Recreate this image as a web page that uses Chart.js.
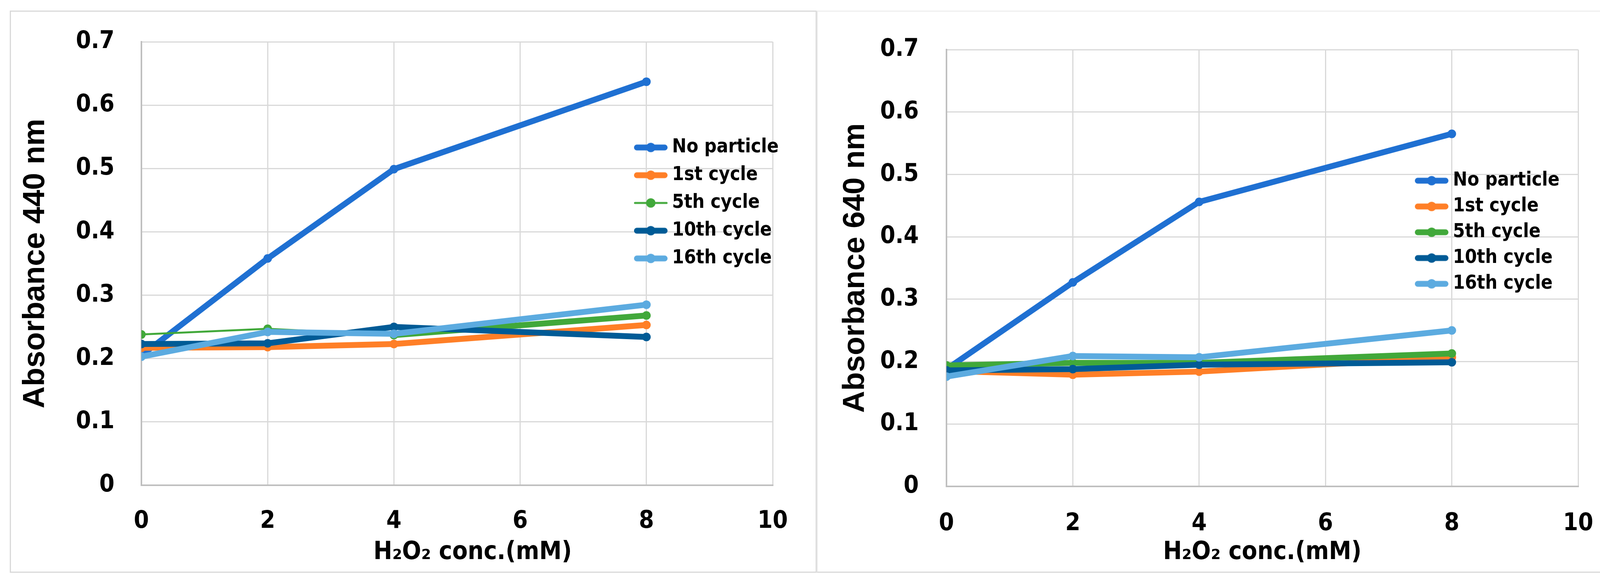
<!DOCTYPE html>
<html>
<head>
<meta charset="utf-8">
<title>Absorbance vs H2O2 concentration</title>
<script src="https://cdn.jsdelivr.net/npm/chart.js@4.4.1/dist/chart.umd.min.js"></script>
<style>
  html, body { margin: 0; padding: 0; background: #fff; }
  body { width: 4164px; height: 1505px; position: relative; overflow: hidden; }
  canvas { position: absolute; }
  .panel { position: absolute; box-sizing: border-box; border: 3px solid #d9d9d9; pointer-events: none; }
  #c440, #p440 { left: 25px; top: 27px; }
  #c640, #p640 { left: 2090px; top: 27px; }
  #p440 { width: 2066px; height: 1439px; }
  #p640 { width: 2048px; height: 1439px; border-top-color: #efefef; border-left-color: #e4e4e4; }
</style>
</head>
<body>
<canvas id="c440" width="2066" height="1439"></canvas>
<canvas id="c640" width="2048" height="1439"></canvas>
<div class="panel" id="p440"></div>
<div class="panel" id="p640"></div>
<script>
// x values (mM H2O2)
const concentrations = [0, 2, 4, 8];
const seriesNames = ['No particle', '1st cycle', '5th cycle', '10th cycle', '16th cycle'];

// absorbance at 440 nm
const abs440NoParticle = [0.205, 0.358, 0.499, 0.637];
const abs440Cycle1 = [0.217, 0.218, 0.223, 0.253];
const abs440Cycle5 = [0.238, 0.247, 0.237, 0.268];
const abs440Cycle10 = [0.223, 0.224, 0.250, 0.234];
const abs440Cycle16 = [0.203, 0.242, 0.239, 0.285];

// absorbance at 640 nm
const abs640NoParticle = [0.188, 0.327, 0.456, 0.565];
const abs640Cycle1 = [0.185, 0.179, 0.184, 0.207];
const abs640Cycle5 = [0.194, 0.198, 0.198, 0.213];
const abs640Cycle10 = [0.186, 0.188, 0.195, 0.199];
const abs640Cycle16 = [0.176, 0.209, 0.207, 0.250];

// tick labels
const xTicks = [0, 2, 4, 6, 8, 10];
const yTicks = [0, 0.1, 0.2, 0.3, 0.4, 0.5, 0.6, 0.7];

const colors = ['#1F70D2', '#FF7F27', '#41A83A', '#005B96', '#5CABE0'];
const thick = 15;
const thin = 5;

// narrow bold face, close to the Calibri look of the original
Chart.defaults.font.family = "'DejaVu Sans', sans-serif";
Chart.defaults.font.weight = 'bold condensed';
Chart.defaults.color = '#000';

// little line+dot picture for the legend
function legendIcon(color, w) {
  const c = document.createElement('canvas');
  c.width = 86;
  c.height = 30;
  const g = c.getContext('2d');
  g.strokeStyle = color;
  g.fillStyle = color;
  g.lineCap = 'round';
  g.lineWidth = w;
  g.beginPath();
  g.moveTo(w / 2, 15);
  g.lineTo(86 - w / 2, 15);
  g.stroke();
  g.beginPath();
  g.arc(43, 15, 12, 0, Math.PI * 2);
  g.fill();
  return c;
}

// move the legend inside the plot area
const placeLegend = {
  id: 'placeLegend',
  afterLayout(chart) {
    const lg = chart.legend;
    const p = chart.options.plugins.placeLegend;
    if (!lg || !p) return;
    const w = lg.width, h = lg.height;
    lg.left = p.x; lg.top = p.y;
    lg.right = p.x + w; lg.bottom = p.y + h;
  }
};

function makeChart(id, seriesValues, cfg) {
  const datasets = seriesValues.map((vals, i) => {
    const ds = {
      label: seriesNames[i],
      data: concentrations.map((x, j) => ({ x: x, y: vals[j] })),
      borderColor: colors[i],
      backgroundColor: colors[i],
      borderWidth: thick,
      pointRadius: 11,
      pointBorderWidth: 0,
      pointBackgroundColor: colors[i],
      borderJoinStyle: 'round',
      borderCapStyle: 'round',
      order: seriesValues.length - i,
      legendIcon: legendIcon(colors[i], cfg.legendWidths[i])
    };
    if (cfg.segments && cfg.segments[i]) ds.segment = { borderWidth: cfg.segments[i] };
    return ds;
  });

  return new Chart(document.getElementById(id), {
    type: 'line',
    data: { datasets: datasets },
    plugins: [placeLegend],
    options: {
      responsive: false,
      animation: false,
      devicePixelRatio: 1,
      layout: { padding: cfg.padding },
      plugins: {
        tooltip: { enabled: false },
        placeLegend: cfg.legendAt,
        legend: {
          position: 'chartArea',
          align: 'start',
          labels: {
            usePointStyle: true,
            pointStyleWidth: 60,
            padding: cfg.legendGap,
            font: { size: 49 },
            color: '#000',
            generateLabels: (chart) => chart.data.datasets.map((ds, i) => ({
              text: ds.label,
              fillStyle: ds.borderColor,
              strokeStyle: ds.borderColor,
              lineWidth: 0,
              pointStyle: ds.legendIcon,
              hidden: false,
              datasetIndex: i,
              fontColor: '#000'
            }))
          }
        }
      },
      scales: {
        x: {
          type: 'linear',
          min: 0,
          max: 10,
          afterBuildTicks: (s) => { s.ticks = xTicks.map(v => ({ value: v })); },
          afterFit: (s) => { s.height = cfg.xAxisHeight; },
          grid: { color: '#d9d9d9', lineWidth: 3, drawTicks: true, tickLength: cfg.xTickGap, tickColor: 'rgba(0,0,0,0)' },
          border: { color: '#bfbfbf', width: 4 },
          ticks: { padding: 0, font: { size: 62 }, maxRotation: 0 },
          title: {
            display: true,
            text: cfg.xTitle,
            font: { size: 64 },
            padding: { top: 0, bottom: 13 }
          }
        },
        y: {
          min: 0,
          max: 0.7,
          afterBuildTicks: (s) => { s.ticks = yTicks.map(v => ({ value: v })); },
          afterFit: (s) => { s.width = cfg.yAxisWidth; },
          grid: { color: '#d9d9d9', lineWidth: 3, drawTicks: true, tickLength: cfg.yTickGap, tickColor: 'rgba(0,0,0,0)' },
          border: { color: '#bfbfbf', width: 4 },
          ticks: { padding: 0, font: { size: 62 }, callback: (v) => String(Math.round(v * 10) / 10) },
          title: {
            display: true,
            text: cfg.yTitle,
            font: { family: "'Liberation Sans', Arial, sans-serif", size: 78, weight: 'bold' },
            padding: { top: cfg.yTitlePad, bottom: 0 }
          }
        }
      }
    }
  });
}

makeChart('c440',
  [abs440NoParticle, abs440Cycle1, abs440Cycle5, abs440Cycle10, abs440Cycle16],
  {
    yTitle: 'Absorbance 440 nm',
    xTitle: '\u00A0\u00A0\u00A0\u00A0H₂O₂ conc.(mM)',
    padding: { left: 0, top: 80, right: 113, bottom: 0 },
    yAxisWidth: 337,
    xAxisHeight: 224,
    xTickGap: 56,
    yTickGap: 69,
    yTitlePad: 20,
    legendWidths: [thick, thick, thin, thick, thick],
    segments: [null, null, (ctx) => ctx.p0DataIndex < 2 ? thin : thick, null, null],
    legendGap: 22,
    legendAt: { x: 1589, y: 304 }
  });

makeChart('c640',
  [abs640NoParticle, abs640Cycle1, abs640Cycle5, abs640Cycle10, abs640Cycle16],
  {
    yTitle: 'Absorbance 640 nm',
    xTitle: 'H₂O₂ conc.(mM)',
    padding: { left: 0, top: 100, right: 98, bottom: 0 },
    yAxisWidth: 333,
    xAxisHeight: 221,
    xTickGap: 59,
    yTickGap: 71,
    yTitlePad: 54,
    legendWidths: [thick, thick, thick, thick, thick],
    segments: null,
    legendGap: 17,
    legendAt: { x: 1528, y: 394 }
  });
</script>
</body>
</html>
